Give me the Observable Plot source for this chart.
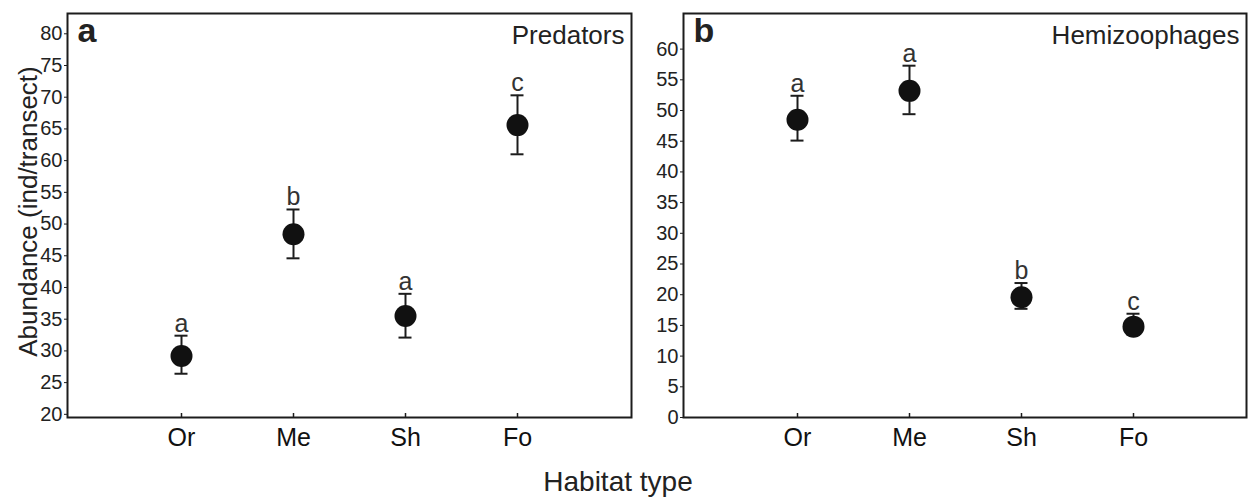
<!DOCTYPE html>
<html><head><meta charset="utf-8">
<script src="https://cdn.jsdelivr.net/npm/d3@7"></script>
<script src="https://cdn.jsdelivr.net/npm/@observablehq/plot@0.6"></script>
<style>
body{margin:0;background:#fff;font-family:"Liberation Sans",Arial,sans-serif;}
#row{display:flex;}
#xtitle{box-sizing:border-box;width:1251px;padding:10px 15px 0 0;text-align:center;font-size:28px;line-height:34px;color:#222;}
</style></head><body>
<div id="row"><div id="pa"></div><div id="pb"></div></div>
<div id="xtitle">Habitat type</div>
<script>
const habitats = ["Or", "Me", "Sh", "Fo"];
const predMean = [29.2, 48.4, 35.5, 65.6];
const predUpper = [32.4, 52.3, 39.0, 70.3];
const predLower = [26.4, 44.6, 32.1, 61.0];
const predLetters = ["a", "b", "a", "c"];
const hemiMean = [48.5, 53.2, 19.6, 14.8];
const hemiUpper = [52.4, 57.3, 21.9, 16.9];
const hemiLower = [45.1, 49.4, 17.7, 13.5];
const hemiLetters = ["a", "a", "b", "c"];
const predTicks = d3.range(20, 81, 5);
const hemiTicks = d3.range(0, 61, 5);

const ink = "#1c1c1c";
const font = '"Liberation Sans", Arial, sans-serif';

function rowsOf(mean, upper, lower, letters) {
  return habitats.map((h, i) => ({h, mean: mean[i], upper: upper[i], lower: lower[i], letter: letters[i]}));
}

function panel(rows, domain, ticks, panelLetter, title, width, ml, mr, ytitle) {
  const marks = [
    Plot.frame({stroke: ink, strokeWidth: 2}),
    Plot.axisY({ticks, tickSize: 3, tickPadding: 2, fontSize: 20, label: null, stroke: ink, fill: "#222"}),
    Plot.axisX({tickSize: 0, tickPadding: 11, fontSize: 25, label: null, fill: "#111"}),
    Plot.ruleX(habitats, {x: d => d, y1: domain[0], y2: domain[0], insetTop: -4, stroke: ink, strokeWidth: 1.5}),
    Plot.ruleX(rows, {x: "h", y1: "lower", y2: "upper", stroke: ink, strokeWidth: 2}),
    Plot.ruleY(rows, {x1: "h", x2: "h", y: "upper", insetLeft: -6.5, insetRight: -6.5, stroke: ink, strokeWidth: 2}),
    Plot.ruleY(rows, {x1: "h", x2: "h", y: "lower", insetLeft: -6.5, insetRight: -6.5, stroke: ink, strokeWidth: 2}),
    Plot.dot(rows, {x: "h", y: "mean", r: 11, fill: "#111", stroke: "none"}),
    Plot.text(rows, {x: "h", y: "upper", text: "letter", dy: -4, lineAnchor: "bottom", fontSize: 25, fill: "#333"}),
    Plot.text([panelLetter], {frameAnchor: "top-left", dx: 10, dy: 4, lineAnchor: "top", textAnchor: "start", fontSize: 34, fontWeight: "bold", fill: "#222"}),
    Plot.text([title], {frameAnchor: "top-right", dx: -7, dy: 12, lineAnchor: "top", textAnchor: "end", fontSize: 26, fill: "#222"})
  ];
  if (ytitle) {
    marks.push(Plot.text([ytitle], {frameAnchor: "left", dx: -39, dy: -4, rotate: -90, textAnchor: "middle", lineAnchor: "middle", fontSize: 26, fill: "#222"}));
  }
  return Plot.plot({
    width, height: 455,
    marginLeft: ml, marginRight: mr, marginTop: 13, marginBottom: 38,
    style: {fontFamily: font, color: "#222", background: "white", overflow: "visible"},
    x: {type: "point", domain: habitats, padding: 1, label: null},
    y: {domain, label: null},
    marks
  });
}

document.getElementById("pa").append(
  panel(rowsOf(predMean, predUpper, predLower, predLetters), [19.5, 83.2], predTicks, "a", "Predators", 640, 67, 9, "Abundance (ind/transect)")
);
document.getElementById("pb").append(
  panel(rowsOf(hemiMean, hemiUpper, hemiLower, hemiLetters), [0, 65.8], hemiTicks, "b", "Hemizoophages", 611, 43, 5, null)
);
</script>
</body></html>
